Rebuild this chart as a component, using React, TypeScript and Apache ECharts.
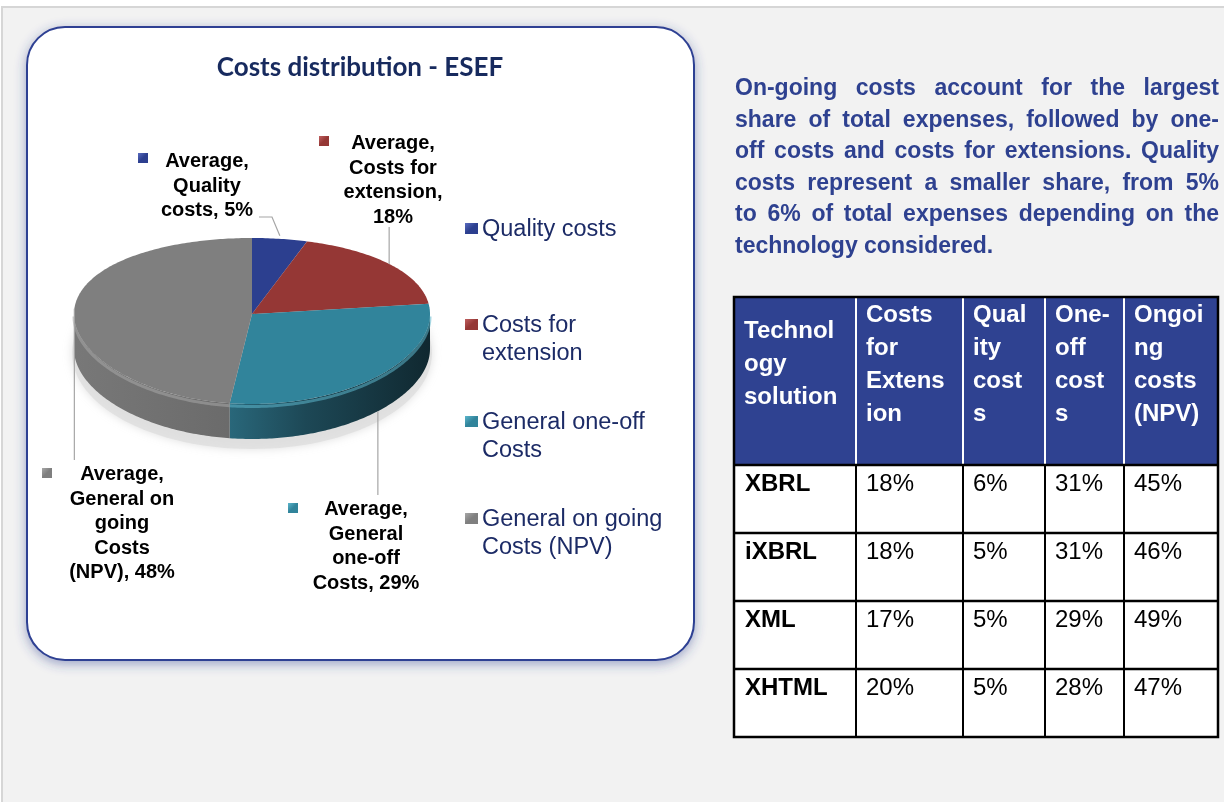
import React, { useEffect, useRef } from "react";
import * as echarts from "echarts";

// ---------- data ----------
const categories = ["Quality costs", "Costs for extension", "General one-off Costs", "General on going Costs (NPV)"];
const shares = [5, 18, 29, 48];
const chartTitle = "Costs distribution - ESEF";
const labelLines = [
  ["Average,", "Quality", `costs, ${shares[0]}%`],
  ["Average,", "Costs for", "extension,", `${shares[1]}%`],
  ["Average,", "General", "one-off", `Costs, ${shares[2]}%`],
  ["Average,", "General on", "going", "Costs", `(NPV), ${shares[3]}%`],
];
const legendLines = [["Quality costs"], ["Costs for", "extension"], ["General one-off", "Costs"], ["General on going", "Costs (NPV)"]];

const paragraphLines = [
  "On-going costs account for the largest",
  "share of total expenses, followed by one-",
  "off costs and costs for extensions. Quality",
  "costs represent a smaller share, from 5%",
  "to 6% of total expenses depending on the",
  "technology considered.",
];

const tableHeader = [
  ["Technol", "ogy", "solution"],
  ["Costs", "for", "Extens", "ion"],
  ["Qual", "ity", "cost", "s"],
  ["One-", "off", "cost", "s"],
  ["Ongoi", "ng", "costs", "(NPV)"],
];
const technologies = ["XBRL", "iXBRL", "XML", "XHTML"];
const extensionCosts = [18, 18, 17, 20];
const qualityCosts = [6, 5, 5, 5];
const oneOffCosts = [31, 31, 29, 28];
const ongoingCosts = [45, 46, 49, 47];

// ---------- styles / layout ----------
const sliceTop = ["#2C3F8F", "#953735", "#31849B", "#7F7F7F"];
const sliceLight = ["#5a6cc0", "#c06060", "#5cb6cc", "#a8a8a8"];
const wallStops = [
  [{ offset: 0, color: "#2a3a80" }, { offset: 1, color: "#18224d" }],
  [{ offset: 0, color: "#7e2d2c" }, { offset: 1, color: "#4e1b1a" }],
  [{ offset: 0.35, color: "#2e7489" }, { offset: 0.65, color: "#1d4856" }, { offset: 1, color: "#102830" }],
  [{ offset: 0, color: "#787878" }, { offset: 0.4, color: "#6c6c6c" }, { offset: 1, color: "#595959" }],
];
const CX = 252, CY = 314, RX = 178, RYB = 76, RYF = 90, DEPTH = 35;
const labelPos = [[207, 148], [393, 130], [366, 496], [122, 461]];
const markerPos = [[143, 158], [324, 141], [293, 508], [47, 473]];
const leaderLayout: any[] = [
  { bend: [[259, 217], [272, 217]] },
  { toY: 227 },
  { toY: 495 },
  { toY: 460 },
];
const legendY = [228, 324, 421, 518];

const LABEL_FONT = "bold 20px 'Liberation Sans', Arial, sans-serif";
const PARA_FONT = "bold 23px 'Liberation Sans', Arial, sans-serif";
const LEGEND_FONT = "23.5px 'Liberation Sans', Arial, sans-serif";
const TABLE_BOLD = "bold 24px 'Liberation Sans', Arial, sans-serif";
const TABLE_REG = "24px 'Liberation Sans', Arial, sans-serif";

const colBorders = [734, 856, 963, 1045, 1124, 1218];
const rowBorders = [297, 465, 533, 601, 669, 737];
const headerFirstY = [329, 313, 313, 313, 313];

function rim(t: number): [number, number] {
  const c = Math.cos(t), s = Math.sin(t);
  const ry = (RYB + RYF) / 2 - ((RYF - RYB) / 2) * c;
  return [CX + RX * s, CY - ry * c];
}
function arcPts(a0: number, a1: number, dy = 0): number[][] {
  const n = Math.max(2, Math.ceil((a1 - a0) / 0.015));
  const pts: number[][] = [];
  for (let k = 0; k <= n; k++) {
    const p = rim(a0 + ((a1 - a0) * k) / n);
    pts.push([p[0], p[1] + dy]);
  }
  return pts;
}

function icon(x: number, y: number, w: number, h: number, color: string, light: string, z: number) {
  return {
    type: "rect",
    z,
    shape: { x, y, width: w, height: h },
    style: {
      fill: new echarts.graphic.LinearGradient(0, 0, 1, 1, [
        { offset: 0, color: light },
        { offset: 0.5, color: color },
        { offset: 1, color: color },
      ]),
    },
  };
}

export default function App() {
  const ref = useRef<HTMLDivElement>(null);
  useEffect(() => {
    if (!ref.current) return;
    const chart = echarts.init(ref.current, undefined, { renderer: "svg" });
    const total = shares.reduce((a, b) => a + b, 0);
    const starts: number[] = [];
    shares.reduce((acc, v) => { starts.push(acc); return acc + v; }, 0);

    const canvas = document.createElement("canvas");
    const ctx = canvas.getContext("2d")!;
    ctx.font = PARA_FONT;

    const g: any[] = [];
    // page background
    g.push({ type: "rect", z: 0, shape: { x: 0, y: 0, width: 1224, height: 802 }, style: { fill: "#ffffff" } });
    g.push({ type: "rect", z: 0, shape: { x: 2, y: 7, width: 1224, height: 800 }, style: { fill: "#F2F2F2", stroke: "#D6D6D6", lineWidth: 2 } });
    // panel
    g.push({
      type: "rect", z: 1,
      shape: { x: 27, y: 27, width: 667, height: 633, r: 38 },
      style: { fill: "#ffffff", stroke: "#2E4193", lineWidth: 2, shadowBlur: 12, shadowColor: "rgba(46,65,145,0.45)", shadowOffsetY: 3 },
    });
    g.push({
      type: "text", z: 2, x: 360, y: 66,
      style: { text: chartTitle, font: "bold 26px Lato, 'Open Sans', sans-serif", fill: "#172A5E", align: "center", verticalAlign: "middle" },
    });
    // pie shadow
    g.push({
      type: "ellipse", z: 2,
      shape: { cx: CX, cy: CY + DEPTH + 4, rx: RX + 2, ry: RYF + 6 },
      style: { fill: "#dedede", shadowBlur: 10, shadowColor: "#d8d8d8", opacity: 0.8 },
    });
    // legend
    categories.forEach((c, i) => {
      g.push(icon(465, legendY[i] - 5, 13, 11, sliceTop[i], sliceLight[i], 3));
      g.push({
        type: "text", z: 3, x: 482, y: legendY[i] - 14,
        style: { text: legendLines[i].join("\n"), font: LEGEND_FONT, fill: "#1C2B66", lineHeight: 28, verticalAlign: "top", align: "left" },
      });
    });
    // paragraph (justified)
    const pLeft = 735, pRight = 1219;
    paragraphLines.forEach((line, li) => {
      const y = 87 + li * 31.6;
      const words = line.split(" ");
      const widths = words.map((w) => ctx.measureText(w).width);
      const sum = widths.reduce((a, b) => a + b, 0);
      const last = li === paragraphLines.length - 1;
      const gap = last ? ctx.measureText(" ").width : (pRight - pLeft - sum) / (words.length - 1);
      let x = pLeft;
      words.forEach((w, wi) => {
        g.push({ type: "text", z: 3, x, y, style: { text: w, font: PARA_FONT, fill: "#2E4190", verticalAlign: "middle", align: "left" } });
        x += widths[wi] + gap;
      });
    });
    // table
    const tL = colBorders[0], tR = colBorders[colBorders.length - 1];
    const tT = rowBorders[0], tB = rowBorders[rowBorders.length - 1];
    g.push({ type: "rect", z: 3, shape: { x: tL, y: tT, width: tR - tL, height: rowBorders[1] - tT }, style: { fill: "#2F4291" } });
    g.push({ type: "rect", z: 3, shape: { x: tL, y: rowBorders[1], width: tR - tL, height: tB - rowBorders[1] }, style: { fill: "#ffffff" } });
    colBorders.slice(1, -1).forEach((x) => {
      g.push({ type: "line", z: 4, shape: { x1: x, y1: tT, x2: x, y2: rowBorders[1] }, style: { stroke: "#ffffff", lineWidth: 2 } });
      g.push({ type: "line", z: 4, shape: { x1: x, y1: rowBorders[1], x2: x, y2: tB }, style: { stroke: "#000000", lineWidth: 2 } });
    });
    rowBorders.slice(1, -1).forEach((y) => {
      g.push({ type: "line", z: 4, shape: { x1: tL, y1: y, x2: tR, y2: y }, style: { stroke: "#000000", lineWidth: 2.5 } });
    });
    g.push({ type: "rect", z: 4, shape: { x: tL, y: tT, width: tR - tL, height: tB - tT }, style: { fill: null, stroke: "#000000", lineWidth: 2.5 } });
    tableHeader.forEach((lines, ci) => {
      g.push({
        type: "text", z: 5, x: colBorders[ci] + 10, y: headerFirstY[ci] - 16.5,
        style: { text: lines.join("\n"), font: TABLE_BOLD, fill: "#ffffff", lineHeight: 33, verticalAlign: "top", align: "left" },
      });
    });
    const cols = [extensionCosts, qualityCosts, oneOffCosts, ongoingCosts];
    technologies.forEach((t, ri) => {
      const y = rowBorders[ri + 1] + 17;
      g.push({ type: "text", z: 5, x: colBorders[0] + 11, y, style: { text: t, font: TABLE_BOLD, fill: "#000", verticalAlign: "middle" } });
      cols.forEach((col, ci) => {
        g.push({ type: "text", z: 5, x: colBorders[ci + 1] + 10, y, style: { text: `${col[ri]}%`, font: TABLE_REG, fill: "#000", verticalAlign: "middle" } });
      });
    });

    const renderItem = (params: any, api: any) => {
      const i = params.dataIndex;
      const v = api.value(0) as number;
      const st = api.value(1) as number;
      const a0 = (st / total) * Math.PI * 2;
      const a1 = ((st + v) / total) * Math.PI * 2;
      const children: any[] = [];
      const b0 = Math.max(a0, Math.PI / 2), b1 = Math.min(a1, (Math.PI * 3) / 2);
      if (b1 > b0) {
        const top = arcPts(b0, b1, 0);
        const bot = arcPts(b0, b1, DEPTH).reverse();
        children.push({
          type: "polygon", z2: 1,
          shape: { points: [...top, ...bot] },
          style: { fill: new echarts.graphic.LinearGradient(CX - RX, 0, CX + RX, 0, wallStops[i], true) },
        });
        children.push({
          type: "polyline", z2: 2,
          shape: { points: arcPts(b0, b1, 2.5) },
          style: { stroke: sliceLight[i], lineWidth: 3, opacity: 0.55, fill: null },
        });
      }
      children.push({
        type: "polygon", z2: 3,
        shape: { points: [[CX, CY], ...arcPts(a0, a1, 0)] },
        style: { fill: sliceTop[i] },
      });
      // leader line
      const mid = (a0 + a1) / 2;
      const p = rim(mid);
      const front = Math.cos(mid) < -0.3;
      const anchor = [p[0], p[1] + (front ? DEPTH : 0)];
      const lay = leaderLayout[i];
      let pts: number[][];
      if (lay.bend) pts = [...lay.bend, [anchor[0], anchor[1] - 3]];
      else pts = [[anchor[0], anchor[1]], [anchor[0], lay.toY]];
      children.push({ type: "polyline", z2: 10, shape: { points: pts }, style: { stroke: "#A6A6A6", lineWidth: 1.2, fill: null } });
      // marker + label
      const m = markerPos[i];
      children.push({ ...icon(m[0] - 5, m[1] - 5, 10, 10, sliceTop[i], sliceLight[i], 0), z2: 10 });
      children.push({
        type: "text", z2: 10, x: labelPos[i][0], y: labelPos[i][1],
        style: { text: labelLines[i].join("\n"), font: LABEL_FONT, fill: "#000000", lineHeight: 24.5, align: "center", verticalAlign: "top" },
      });
      return { type: "group", children };
    };

    chart.setOption({
      animation: false,
      graphic: { elements: g },
      series: [
        {
          type: "custom",
          name: "Costs distribution",
          coordinateSystem: "none",
          z: 5,
          silent: true,
          renderItem,
          data: shares.map((v, i) => ({ name: categories[i], value: [v, starts[i]] })),
        },
      ],
    });
    return () => chart.dispose();
  }, []);
  return <div ref={ref} style={{ position: "fixed", left: 0, top: 0, width: 1224, height: 802 }} />;
}
